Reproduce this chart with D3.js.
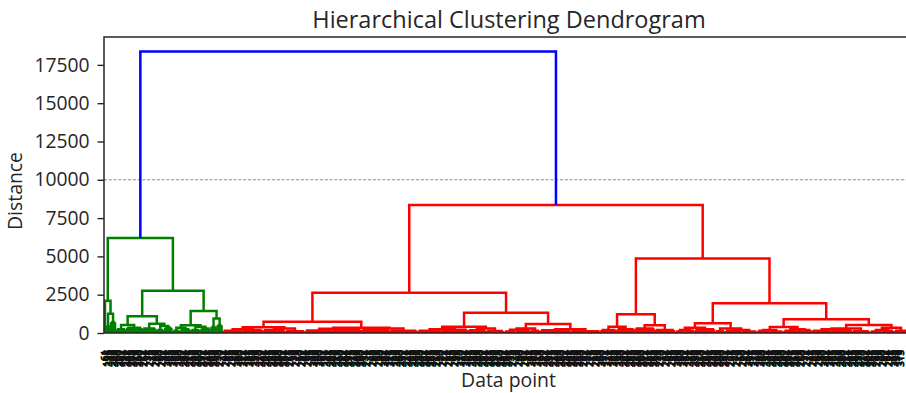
<!DOCTYPE html>
<html><head><meta charset="utf-8">
<script src="https://cdn.jsdelivr.net/npm/d3@7"></script>
<style>
body{margin:0;background:#fff}
svg{display:block}
text{font-family:"Open Sans",sans-serif}
</style>
</head><body>
<svg id="c" width="906" height="393"></svg>
<script>
// ---------- data ----------
const title = "Hierarchical Clustering Dendrogram";
const xLabel = "Data point";
const yLabel = "Distance";
const yTicks = [0, 2500, 5000, 7500, 10000, 12500, 15000, 17500];
const threshold = 10000;
const rootHeight = 18380;
const yMax = 19320;

// Tree notation: [h, left, right] = merge at height h ; [h, k] = k leaves joined at height h
const greenLeft = [2100, [0, 1], [1250, [500, 2], [700, 3]]];
const greenA = [1100, [520, [250, 5], [350, 8]], [600, [300, 7], [450, [200, 4], [350, 4]]]];
const greenB = [1430, [500, [350, [150, 4], [250, 5]], [400, [200, 5], [300, 5]]], [950, [400, 3], [500, 3]]];
const greenCluster = [6200, greenLeft, [2760, greenA, greenB]];

const redL1a = [380, [250, [150, 10], [200, 10]], [300, [180, 11], [120, 10]]];
const redL1b = [350, [280, [160, 14], [220, 14]], [300, [200, 14], [150, 14]]];
const redL2a = [400, [250, [150, 12], [220, 13]], [300, [180, 9], [130, 9]]];
const redL2b = [590, [300, [220, [100, 6], [180, 7]], [150, 5]], [250, [180, 15], [120, 15]]];
const redLeft = [2630, [740, redL1a, redL1b], [1320, redL2a, redL2b]];

const redR1 = [1220, [400, [200, 8], [250, 9]], [500, [300, 10], [200, 10]]];
const redR2a = [630, [350, [200, [100, 5], [150, 5]], [250, 10]], [300, [120, 5], [200, [150, 8], [100, 8]]]];
const redR2b = [890, [390, [200, [150, 6], [100, 7]], [250, [150, 7], [200, 7]]],
                     [520, [300, [250, [150, 10], [200, 10]], [120, 9]], [350, [200, [100, 6], [150, 6]], [150, 7]]]];
const redRight = [4870, redR1, [1935, redR2a, redR2b]];
const redCluster = [8350, redLeft, redRight];

const colors = {green: "#008000", red: "#ff0000", blue: "#0000ff"};

// ---------- layout ----------
const L = 104, R = 908, T = 37, B = 333;
const svg = d3.select("#c");

function countLeaves(n) { return n.length === 2 ? n[1] : countLeaves(n[1]) + countLeaves(n[2]); }
const N = countLeaves(greenCluster) + countLeaves(redCluster);
// leaf labels are the (illegible) original observation indices in dendrogram leaf order
const leafLabels = d3.range(N).map(i => String((i * 137 + 61) % N));

const x = d3.scaleLinear().domain([0, N * 10]).range([L, R]);
const y = d3.scaleLinear().domain([0, yMax]).range([B, T]);

// threshold
svg.append("line").attr("x1", L).attr("x2", 920).attr("y1", y(threshold)).attr("y2", y(threshold))
  .attr("stroke", "#8a8a8a").attr("stroke-width", 1).attr("stroke-dasharray", "3,1.8");

const gLinks = svg.append("g").attr("fill", "none").attr("stroke-width", 2.5);
let leafIdx = 0;
function draw(node, color) {
  if (node.length === 2) {
    const k = node[1];
    const xs = d3.range(k).map(() => x(10 * (leafIdx++) + 5));
    if (k === 1) return {x: xs[0], h: 0};
    const h = node[0];
    let d = "";
    xs.forEach(v => { d += `M${v},${y(0)}V${y(h)}`; });
    d += `M${xs[0]},${y(h)}H${xs[k - 1]}`;
    gLinks.append("path").attr("d", d).attr("stroke", color);
    return {x: (xs[0] + xs[k - 1]) / 2, h};
  }
  const a = draw(node[1], color), b = draw(node[2], color);
  const h = node[0];
  gLinks.append("path").attr("d", `M${a.x},${y(a.h)}V${y(h)}H${b.x}V${y(b.h)}`).attr("stroke", color);
  return {x: (a.x + b.x) / 2, h};
}
const g = draw(greenCluster, colors.green);
const r = draw(redCluster, colors.red);
gLinks.append("path").attr("d", `M${g.x},${y(g.h)}V${y(rootHeight)}H${r.x}V${y(r.h)}`).attr("stroke", colors.blue);

// spines
svg.append("rect").attr("x", L).attr("y", T).attr("width", 920 - L).attr("height", B - T)
  .attr("fill", "none").attr("stroke", "#262626").attr("stroke-width", 1.5);

// y axis
const yAxis = svg.append("g").attr("transform", `translate(${L},0)`)
  .call(d3.axisLeft(y).tickValues(yTicks).tickSize(6.5).tickPadding(8).tickFormat(d3.format("d")));
yAxis.select(".domain").remove();
yAxis.selectAll("line").attr("stroke", "#262626").attr("stroke-width", 1.4);
yAxis.selectAll("text").attr("font-size", 19.3).attr("fill", "#262626").style("font-family", '"Open Sans",sans-serif');

// leaf labels
const gLab = svg.append("g").attr("font-size", 9.8).attr("fill", "#111").attr("stroke", "#111").attr("stroke-width", 0.8);
leafLabels.forEach((t, i) => {
  const px = x(10 * i + 5);
  if (px > 902) return;
  gLab.append("text").attr("transform", `translate(${px + 3.4},350) rotate(-90)`)
    .attr("text-anchor", "end").text(t);
});

// titles
svg.append("text").attr("x", 509).attr("y", 27.5).attr("text-anchor", "middle")
  .attr("font-size", 23.5).attr("fill", "#262626").text(title);
svg.append("text").attr("x", 508.5).attr("y", 386.5).attr("text-anchor", "middle")
  .attr("font-size", 19.4).attr("fill", "#262626").text(xLabel);
svg.append("text").attr("transform", "translate(22,191) rotate(-90)").attr("text-anchor", "middle")
  .attr("font-size", 19.4).attr("fill", "#262626").text(yLabel);
</script>
</body></html>
